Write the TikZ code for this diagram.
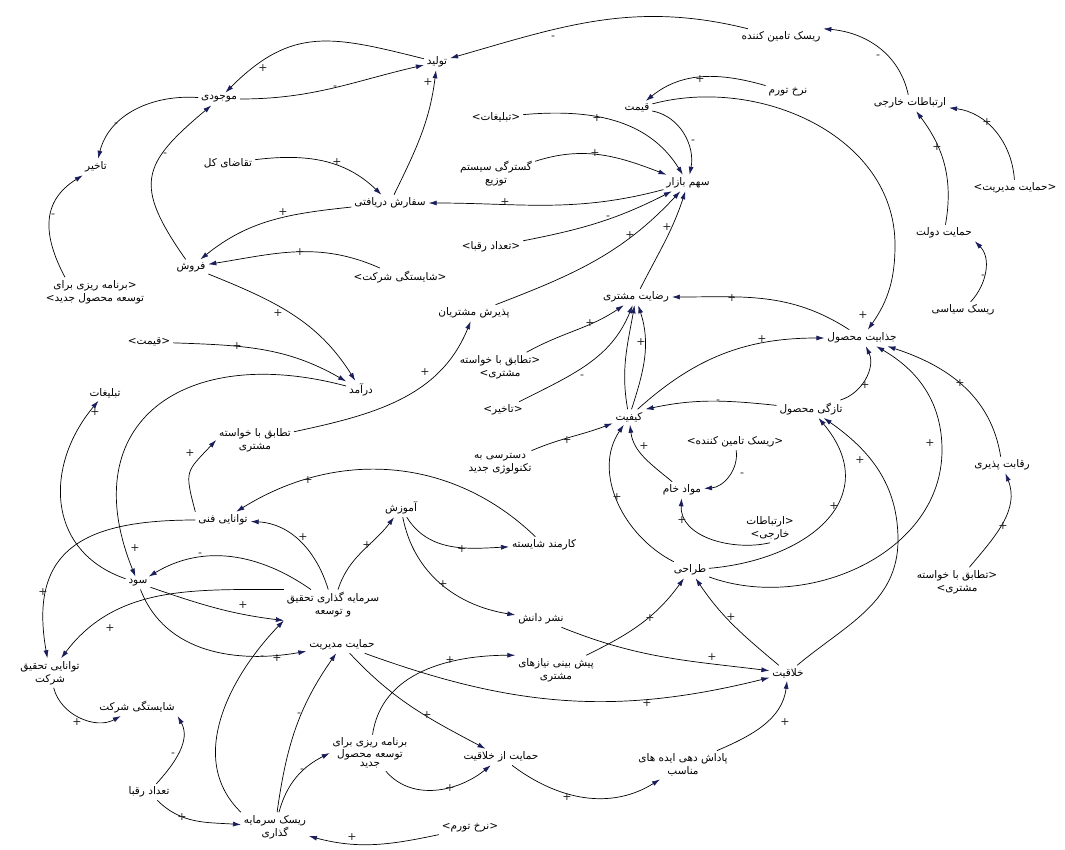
\documentclass[tikz,border=0pt]{standalone}
\usepackage{fontspec}
\usepackage{tikz}
\usetikzlibrary{arrows.meta}
\newfontfamily\farsi[Script=Arabic]{DejaVu Sans}
\newfontfamily\brk{DejaVu Sans}
\TeXXeTstate=1
\definecolor{tipnavy}{RGB}{25,30,90}
\newcommand{\fa}[1]{\beginR#1\endR}
\newcommand{\lb}{{\brk<}}
\newcommand{\rb}{{\brk>}}
\tikzset{
  var/.style={
    font=\farsi\fontsize{10.5}{13}\selectfont,
    align=center, inner sep=1pt, outer sep=2pt
  },
  link/.style={
    draw=black, line width=0.7pt,
    -{Latex[length=8pt,width=5pt,color=tipnavy]}
  },
  sgn/.style={font=\brk\fontsize{11}{11}\selectfont, text=black!85, inner sep=0pt}
}

\begin{document}
\begin{tikzpicture}[x=1pt,y=1pt]
        \useasboundingbox (0,0) rectangle (1065,-849);

        \node [var] (tolid) at (437,-62) {\fa{تولید}};
        \node [var] (mojodi) at (219,-99) {\fa{موجودی}};
        \node [var] (takhir) at (96,-167) {\fa{تاخیر}};
        \node [var] (barnameSh) at (95,-292) {\fa{برنامه ریزی برای}\rb\\\lb\fa{توسعه محصول جدید}};
        \node [var] (taghaza) at (228,-163) {\fa{تقاضای کل}};
        \node [var] (sefaresh) at (390,-203) {\fa{سفارش دریافتی}};
        \node [var] (forush) at (191,-267) {\fa{فروش}};
        \node [var] (shayestegiSh) at (400,-277) {\lb\fa{شایستگی شرکت}\rb};
        \node [var] (tedadSh) at (491,-247) {\lb\fa{تعداد رقبا}\rb};
        \node [var] (tabliqatSh) at (496,-117) {\lb\fa{تبلیغات}\rb};
        \node [var] (gostardegi) at (496,-174) {\fa{گسترگی سیستم}\\\fa{توزیع}};
        \node [var] (sahm) at (688,-183) {\fa{سهم بازار}};
        \node [var] (gheymat) at (637,-108) {\fa{قیمت}};
        \node [var] (nerkh) at (788,-92) {\fa{نرخ تورم}};
        \node [var] (riskTamin) at (781,-37) {\fa{ریسک تامین کننده}};
        \node [var] (ertebatat) at (910,-103) {\fa{ارتباطات خارجی}};
        \node [var] (hemayatModSh) at (1015,-188) {\lb\fa{حمایت مدیریت}\rb};
        \node [var] (dolat) at (944,-233) {\fa{حمایت دولت}};
        \node [var] (siasi) at (963,-310) {\fa{ریسک سیاسی}};
        \node [var] (rezayat) at (636,-297) {\fa{رضایت مشتری}};
        \node [var] (paziresh) at (474,-313) {\fa{پذیرش مشتریان}};
        \node [var] (jazzabiat) at (862,-338) {\fa{جذابیت محصول}};
        \node [var] (gheymatSh) at (149,-342) {\lb\fa{قیمت}\rb};
        \node [var] (tatabogSh) at (500,-367) {\fa{تطابق با خواسته}\rb\\\lb\fa{مشتری}};
        \node [var] (daramad) at (361,-390) {\fa{درآمد}};
        \node [var] (tabliqat) at (105,-393) {\fa{تبلیغات}};
        \node [var] (tazegi) at (811,-409) {\fa{تازگی محصول}};
        \node [var] (takhirSh) at (503,-410) {\lb\fa{تاخیر}\rb};
        \node [var] (kefiat) at (629,-417) {\fa{کیفیت}};
        \node [var] (tatabog) at (255,-440) {\fa{تطابق با خواسته}\\\fa{مشتری}};
        \node [var] (riskTaminSh) at (735,-442) {\lb\fa{ریسک تامین کننده}\rb};
        \node [var] (dastresi) at (500,-464) {\fa{دسترسی به}\\\fa{تکنولوژی جدید}};
        \node [var] (raghabat) at (1002,-465) {\fa{رقابت پذیری}};
        \node [var] (mavad) at (682,-490) {\fa{مواد خام}};
        \node [var] (amuzesh) at (401,-508) {\fa{آموزش}};
        \node [var] (fani) at (223,-520) {\fa{توانایی فنی}};
        \node [var] (karmand) at (544,-545) {\fa{کارمند شایسته}};
        \node [var] (ertebatatSh) at (770,-528) {\fa{ارتباطات}\rb\\\lb\fa{خارجی}};
        \node [var] (sood) at (138,-583) {\fa{سود}};
        \node [var] (tarahi) at (690,-570) {\fa{طراحی}};
        \node [var] (sarmaye) at (333,-605) {\fa{سرمایه گذاری تحقیق}\\\fa{و توسعه}};
        \node [var] (tatabogSh2) at (957,-582) {\fa{تطابق با خواسته}\rb\\\lb\fa{مشتری}};
        \node [var] (nashr) at (541,-619) {\fa{نشر دانش}};
        \node [var] (hemayatMod) at (342,-645) {\fa{حمایت مدیریت}};
        \node [var] (tahghigh) at (50,-673) {\fa{توانایی تحقیق}\\\fa{شرکت}};
        \node [var] (pishbini) at (556,-670) {\fa{پیش بینی نیازهای}\\\fa{مشتری}};
        \node [var] (khalaghiat) at (788,-673) {\fa{خلاقیت}};
        \node [var] (shayestegi) at (137,-707) {\fa{شایستگی شرکت}};
        \node [var,font=\farsi\fontsize{10.5}{9.5}\selectfont] (barname) at (370,-753) {\fa{برنامه ریزی برای}\\\fa{توسعه محصول}\\\fa{جدید}};
        \node [var] (hemayatKhal) at (501,-757) {\fa{حمایت از خلاقیت}};
        \node [var] (padash) at (683,-765) {\fa{پاداش دهی ایده های}\\\fa{مناسب}};
        \node [var] (tedad) at (149,-792) {\fa{تعداد رقبا}};
        \node [var] (riskSarmaye) at (275,-827) {\fa{ریسک سرمایه}\\\fa{گذاری}};
        \node [var] (nerkhSh) at (470,-828) {\lb\fa{نرخ تورم}\rb};

        \draw [link] (riskTamin) to[out=166,in=16] (tolid) node [sgn] at (553,-38) {-};
        \draw [link] (ertebatat) to[out=102,in=-5] (riskTamin.north east) node [sgn] at (878,-57) {-};
        \draw [link] (nerkh) to[out=164,in=39] (gheymat) node [sgn] at (700,-79) {+};
        \draw [link] (gheymat) to[out=15,in=90] (895,-245) to[out=-90,in=55] (jazzabiat) node [sgn] at (863,-315) {+};
        \draw [link] (gheymat) to[out=-11,in=79] (sahm) node [sgn] at (693,-142) {-};
        \draw [link] (tabliqatSh) to[out=5,in=122] (sahm) node [sgn] at (597,-118) {+};
        \draw [link] (gostardegi) to[out=18,in=159] (sahm) node [sgn] at (595,-153) {+};
        \draw [link] (sahm) to[out=-165,in=0] (sefaresh) node [sgn] at (505,-202) {+};
        \draw [link] (tedadSh) to[out=11,in=-153] (sahm) node [sgn] at (608,-218) {-};
        \draw [link] (paziresh) to[out=21,in=-133] (sahm) node [sgn] at (630,-235) {+};
        \draw [link] (rezayat) to[out=63,in=-108] (sahm) node [sgn] at (667,-227) {+};
        \draw [link] (tolid) to[out=166,in=45,looseness=1.2] (mojodi) node [sgn] at (263,-68) {+};
        \draw [link] (mojodi) to[out=0,in=-167] (tolid) node [sgn] at (335,-88) {-};
        \draw [link] (sefaresh) to[out=64,in=-97] (tolid) node [sgn] at (428,-82) {+};
        \draw [link] (mojodi) to[out=176,in=76] (takhir) node [sgn] at (116,-125) {-};
        \draw [link] (forush) to[out=125,in=-140,looseness=1.5] (mojodi) node [sgn] at (165,-155) {-};
        \draw [link] ([xshift=-30pt]barnameSh.north) to[out=118,in=-148,looseness=1.2] (takhir) node [sgn] at (53,-216) {-};
        \draw [link] (taghaza) to[out=7,in=136] (sefaresh) node [sgn] at (337,-162) {+};
        \draw [link] (sefaresh) to[out=186,in=39] (forush) node [sgn] at (283,-212) {+};
        \draw [link] (shayestegiSh) to[out=156,in=9] (forush) node [sgn] at (300,-252) {+};
        \draw [link] (forush) to[out=-22,in=122] (daramad) node [sgn] at (278,-313) {+};
        \draw [link] (gheymatSh) to[out=-2,in=150] (daramad) node [sgn] at (237,-346) {+};
        \draw [link] (daramad) to[out=165,in=112,looseness=1.5] (sood) node [sgn] at (135,-548) {+};
        \draw [link] (sood) to[out=161,in=-130,looseness=1.2] (tabliqat) node [sgn] at (95,-412) {+};
        \draw [link] (fani.north west) to[out=105,in=-133,looseness=1.5] (tatabog.west) node [sgn] at (190,-453) {+};
        \draw [link] (tatabog) to[out=12,in=-112] (paziresh) node [sgn] at (425,-372) {+};
        \draw [link] (karmand) to[out=136,in=32] (fani) node [sgn] at (308,-480) {+};
        \draw [link] (sarmaye) to[out=107,in=-3] (fani) node [sgn] at (303,-537) {+};
        \draw [link] (sarmaye) to[out=145,in=31] (sood) node [sgn] at (200,-555) {-};
        \draw [link] (sood) to[out=-19,in=173] (sarmaye.south west) node [sgn] at (243,-605) {+};
        \draw [link] (sood) to[out=-69,in=-170] (hemayatMod) node [sgn] at (277,-658) {+};
        \draw [link] (fani) to[out=180,in=100,looseness=1.4] (tahghigh) node [sgn] at (43,-592) {+};
        \draw [link] (sarmaye.north west) to[out=180,in=53] (tahghigh) node [sgn] at (110,-628) {+};
        \draw [link] (sarmaye) to[out=72,in=-127] (amuzesh) node [sgn] at (367,-545) {+};
        \draw [link] (amuzesh) to[out=-58,in=-177] (karmand) node [sgn] at (462,-549) {+};
        \draw [link] (amuzesh) to[out=-79,in=171] (nashr) node [sgn] at (443,-584) {+};
        \draw [link] (tahghigh) to[out=-76,in=-151] (shayestegi) node [sgn] at (77,-722) {+};
        \draw [link] (tedad) to[out=48,in=-61] (shayestegi.south east) node [sgn] at (173,-755) {-};
        \draw [link] (tedad) to[out=-45,in=176] (riskSarmaye) node [sgn] at (182,-817) {+};
        \draw [link] (nerkhSh) to[out=-168,in=-15] (riskSarmaye) node [sgn] at (352,-837) {+};
        \draw [link] (riskSarmaye.north west) to[out=136,in=-134] (sarmaye.south west) node [sgn] at (262,-658) {-};
        \draw [link] (riskSarmaye) to[out=82,in=-125] (hemayatMod) node [sgn] at (299,-715) {-};
        \draw [link] (riskSarmaye) to[out=75,in=-153] (barname.west) node [sgn] at (302,-771) {-};
        \draw [link] (hemayatMod) to[out=-47,in=152] (hemayatKhal) node [sgn] at (427,-715) {+};
        \draw [link] (hemayatMod) to[out=-20,in=-166] (khalaghiat) node [sgn] at (647,-703) {+};
        \draw [link] (barname) to[out=82,in=180] (pishbini.north west) node [sgn] at (450,-660) {+};
        \draw [link] (barname) to[out=-49,in=-141] (hemayatKhal) node [sgn] at (450,-788) {+};
        \draw [link] (hemayatKhal) to[out=-37,in=-148] (padash) node [sgn] at (567,-797) {+};
        \draw [link] (padash) to[out=23,in=-97] (khalaghiat) node [sgn] at (785,-722) {+};
        \draw [link] (nashr) to[out=-22,in=173] (khalaghiat) node [sgn] at (712,-657) {+};
        \draw [link] (pishbini) to[out=26,in=-126] (tarahi) node [sgn] at (650,-618) {+};
        \draw [link] (khalaghiat) to[out=140,in=-56] (tarahi) node [sgn] at (731,-617) {+};
        \draw [link] (tarahi) to[out=153,in=-124] (kefiat) node [sgn] at (617,-497) {+};
        \draw [link] (tarahi) to[out=5,in=-50,looseness=1.4] (tazegi) node [sgn] at (834,-506) {+};
        \draw [link] (tarahi) to[out=-20,in=-90] (942,-450) to[out=90,in=-30] (jazzabiat) node [sgn] at (930,-443) {+};
        \draw [link] (khalaghiat) to[out=40,in=-90] (898,-540) to[out=90,in=-35] (tazegi) node [sgn] at (860,-460) {+};
        \draw [link] (tazegi) to[out=174,in=12] (kefiat.north east) node [sgn] at (718,-402) {-};
        \draw [link] (tazegi) to[out=17,in=-65] (jazzabiat) node [sgn] at (865,-385) {+};
        \draw [link] (kefiat) to[out=42,in=180] (jazzabiat) node [sgn] at (762,-339) {+};
        \draw [link] (jazzabiat) to[out=147,in=0] (rezayat) node [sgn] at (732,-298) {+};
        \draw [link] (kefiat) to[out=100,in=-100] (rezayat) node [sgn] at (641,-342) {+};
        \draw [link] (kefiat) to[out=72,in=-72] (rezayat.-75);
        \draw [link] (tatabogSh) to[out=29,in=-146] (rezayat) node [sgn] at (590,-323) {+};
        \draw [link] (takhirSh) to[out=27,in=-112] (rezayat) node [sgn] at (582,-377) {-};
        \draw [link] (dastresi) to[out=23,in=-159] (kefiat) node [sgn] at (567,-440) {+};
        \draw [link] (mavad) to[out=140,in=-83] (kefiat) node [sgn] at (644,-446) {+};
        \draw [link] (riskTaminSh) to[out=-82,in=4] (mavad) node [sgn] at (742,-475) {-};
        \draw [link] (ertebatatSh.south) to[out=-167,in=-93] (mavad) node [sgn] at (682,-520) {+};
        \draw [link] (dolat) to[out=80,in=-53] (ertebatat) node [sgn] at (937,-147) {+};
        \draw [link] (hemayatModSh) to[out=94,in=-7] (ertebatat) node [sgn] at (987,-122) {+};
        \draw [link] (siasi) to[out=47,in=-45] (dolat.south east) node [sgn] at (983,-277) {-};
        \draw [link] (raghabat) to[out=99,in=-18] (jazzabiat) node [sgn] at (960,-383) {+};
        \draw [link] (tatabogSh2) to[out=50,in=-68] (raghabat) node [sgn] at (1003,-526) {+};
      \end{tikzpicture}
\end{document}
